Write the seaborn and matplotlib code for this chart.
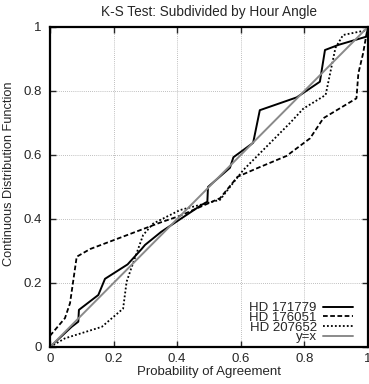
import matplotlib
matplotlib.use("Agg")
import matplotlib.pyplot as plt
import seaborn as sns
import pandas as pd

# data
hd171779_x = [0.0, 0.068, 0.089, 0.091, 0.152, 0.173, 0.244, 0.288, 0.299, 0.35, 0.477, 0.495, 0.497,
              0.566, 0.577, 0.639, 0.66, 0.776, 0.849, 0.865, 0.907, 0.996, 1.0]
hd171779_y = [0.0, 0.063, 0.079, 0.116, 0.1625, 0.213, 0.258, 0.306, 0.319, 0.36, 0.444, 0.454, 0.5,
              0.56, 0.593, 0.638, 0.74, 0.78, 0.829, 0.928, 0.944, 0.97, 1.0]
hd176051_x = [0.0, 0.047, 0.063, 0.084, 0.126, 0.35, 0.409, 0.535, 0.59, 0.65, 0.744, 0.818, 0.86,
              0.964, 0.97, 0.985, 0.996, 1.0]
hd176051_y = [0.035, 0.09, 0.137, 0.282, 0.306, 0.39, 0.41, 0.465, 0.532, 0.558, 0.597, 0.652, 0.715,
              0.777, 0.855, 0.918, 0.98, 1.0]
hd207652_x = [0.0, 0.047, 0.163, 0.23, 0.241, 0.257, 0.293, 0.325, 0.409, 0.535, 0.566, 0.608, 0.65,
              0.755, 0.797, 0.867, 0.898, 0.922, 0.996, 1.0]
hd207652_y = [0.0, 0.027, 0.063, 0.12, 0.204, 0.25, 0.35, 0.386, 0.428, 0.46, 0.5, 0.553, 0.595,
              0.70, 0.745, 0.7875, 0.935, 0.975, 0.99, 1.0]
ref_x = [0.0, 1.0]
ref_y = [0.0, 1.0]
ticks = [0, 0.2, 0.4, 0.6, 0.8, 1]
tick_labels = ["0", "0.2", "0.4", "0.6", "0.8", "1"]

sns.set_style("ticks")
plt.rcParams["font.family"] = ["Liberation Sans", "DejaVu Sans"]
plt.rcParams["font.size"] = 9

fig = plt.figure(figsize=(3.69, 3.84), dpi=100)
ax = fig.add_axes([0.1355, 0.0964, 0.8615, 0.8333])

sns.lineplot(x=hd171779_x, y=hd171779_y, sort=False, estimator=None, color="black",
             lw=1.4, label="HD 171779", ax=ax)
sns.lineplot(x=hd176051_x, y=hd176051_y, sort=False, estimator=None, color="black",
             lw=1.3, linestyle=(0, (2.6, 1.4)), label="HD 176051", ax=ax)
sns.lineplot(x=hd207652_x, y=hd207652_y, sort=False, estimator=None, color="black",
             lw=1.3, linestyle=(0, (1, 1.2)), label="HD 207652", ax=ax)
sns.lineplot(x=ref_x, y=ref_y, sort=False, estimator=None, color="#8a8a8a",
             lw=1.4, label="y=x", ax=ax)

ax.set_xlim(0, 1)
ax.set_ylim(0, 1)
ax.set_xticks(ticks)
ax.set_xticklabels(tick_labels)
ax.set_yticks(ticks)
ax.set_yticklabels(tick_labels)
ax.tick_params(direction="in", top=True, right=True, length=4, width=1, labelsize=9.5)
ax.tick_params(axis="y", pad=6)
ax.tick_params(axis="x", pad=4)
ax.grid(True, color="#aaaaaa", linestyle=(0, (1, 1.5)), linewidth=0.6)
for s in ax.spines.values():
    s.set_linewidth(1.6)
    s.set_color("black")

ax.set_title("K-S Test: Subdivided by Hour Angle", fontsize=9.8, pad=8)
ax.set_xlabel("Probability of Agreement", fontsize=9.5, labelpad=1)
ax.set_ylabel("Continuous Distribution Function", fontsize=9.2)
ax.yaxis.set_label_coords(-0.11, 0.54)

ax.legend(loc="lower right", bbox_to_anchor=(0.953, 0.012), frameon=False,
          markerfirst=False, fontsize=9.5, handlelength=2.3, labelspacing=-0.2,
          handletextpad=0.45, borderaxespad=0, borderpad=0)
for t in ax.get_legend().get_texts():
    t.set_ha("right")
ax.get_legend()._legend_box.align = "right"

fig.savefig("out.png", dpi=100)
